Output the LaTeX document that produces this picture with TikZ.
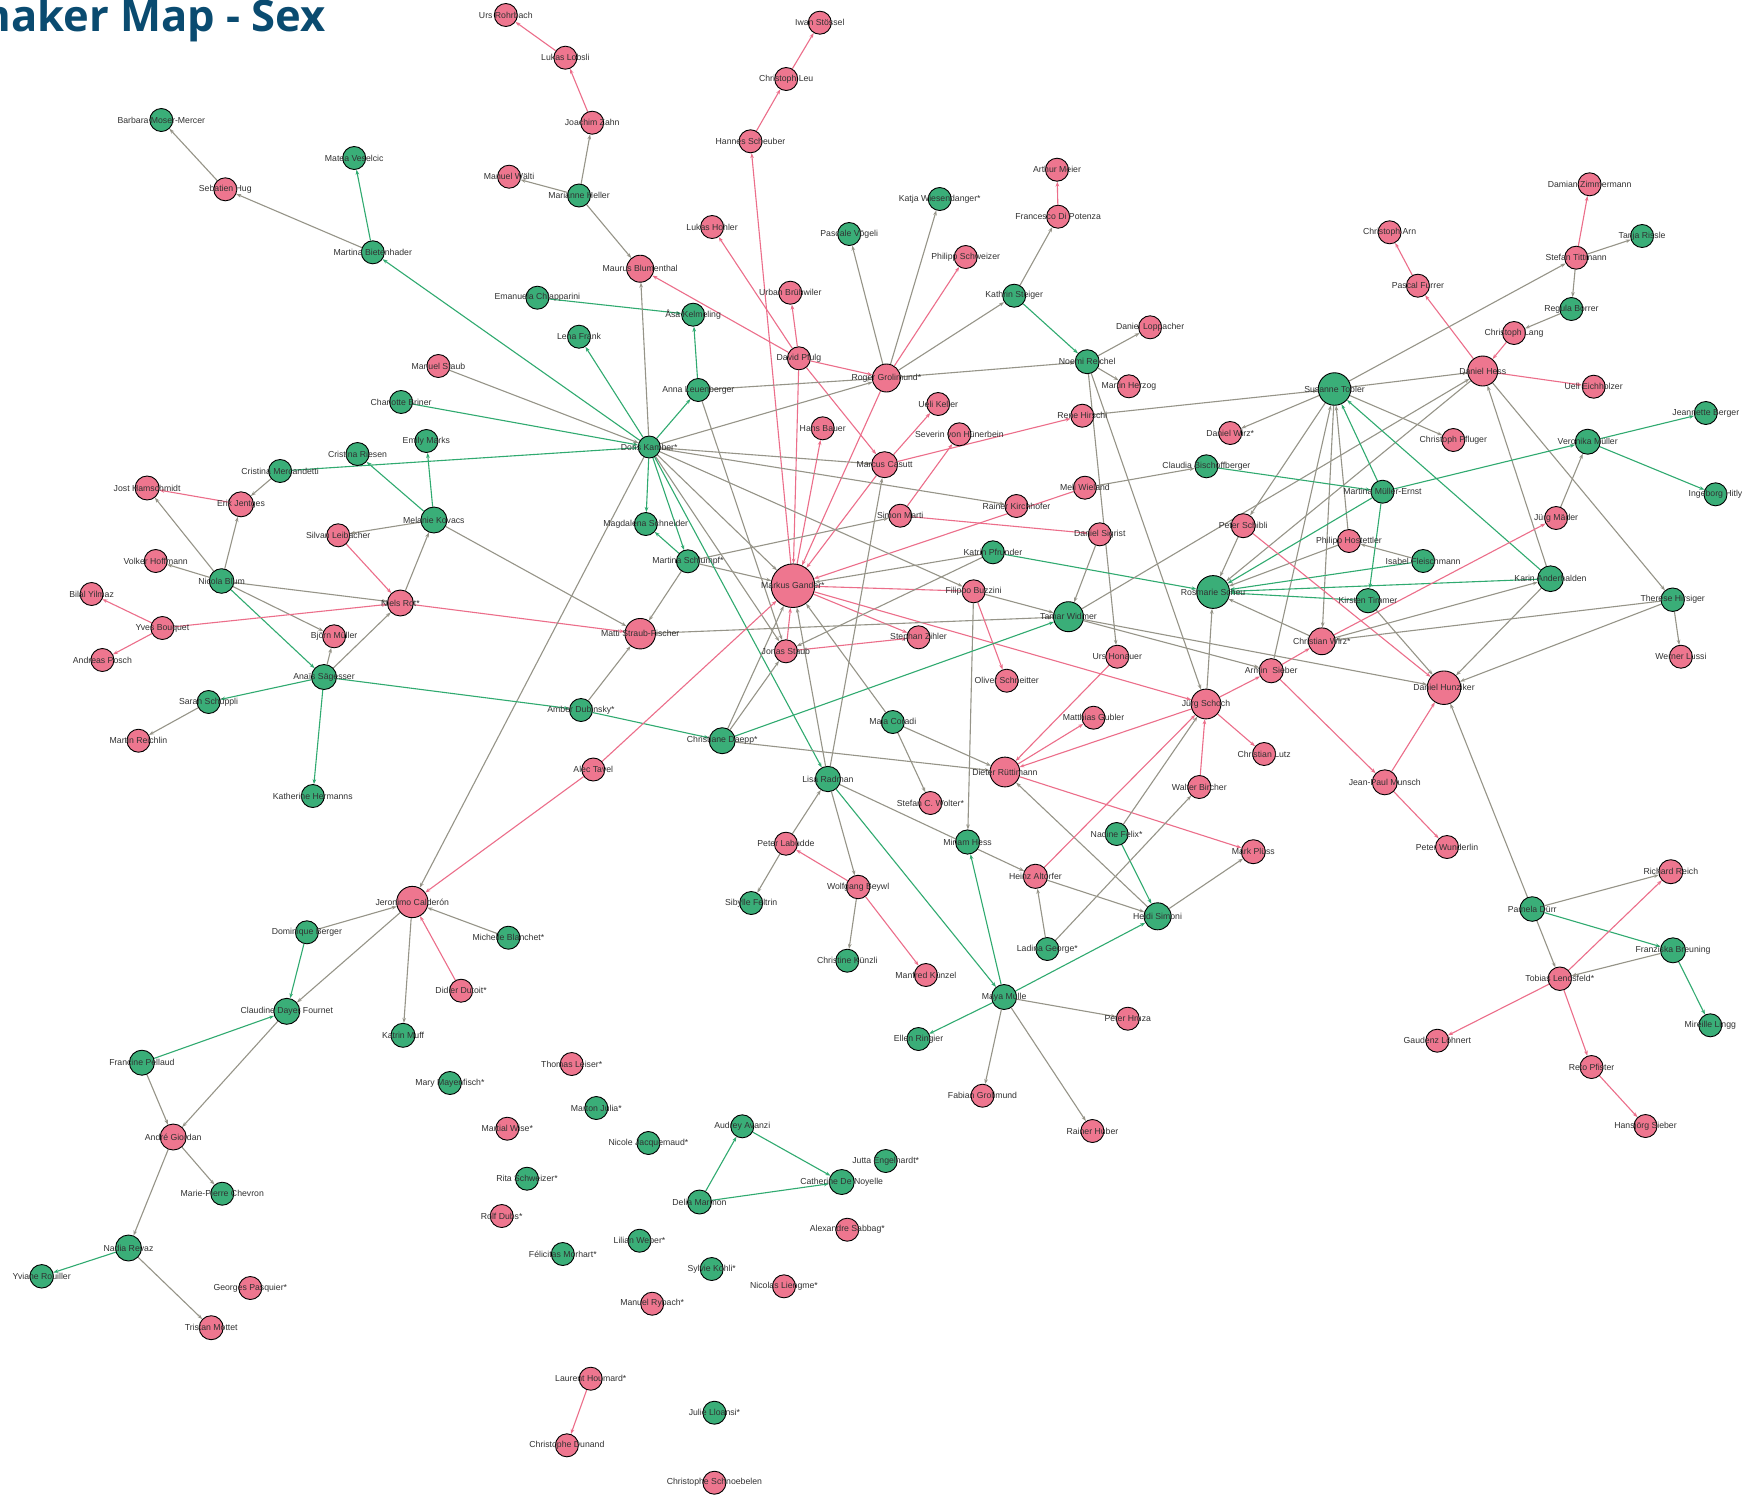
\documentclass[tikz,border=0pt]{standalone}
\usepackage{fontspec}
\setmainfont{Liberation Sans}
\newfontfamily\titlefont{Open Sans}
\usetikzlibrary{arrows.meta}
\definecolor{pkfill}{RGB}{238,118,143}
\definecolor{grfill}{RGB}{58,174,120}
\definecolor{pkedge}{RGB}{236,110,138}
\definecolor{gredge}{RGB}{48,170,112}
\definecolor{gyedge}{RGB}{150,148,136}
\definecolor{labcol}{RGB}{50,50,50}
\definecolor{titleblue}{RGB}{10,75,112}
\pgfdeclarelayer{bg}
\pgfdeclarelayer{fg}
\pgfsetlayers{bg,main,fg}
\tikzset{
  vtx/.style={circle,draw=black,line width=0.9pt,inner sep=0pt},
  pk/.style={fill=pkfill},
  gr/.style={fill=grfill},
  lab/.style={font=\fontsize{8.7}{9}\selectfont,text=labcol,inner sep=0pt},
  tipsty/.style={-{Stealth[length=5pt,width=3.6pt]}},
  ea/.style={draw=gyedge,line width=1.1pt,tipsty},
  ep/.style={draw=pkedge,line width=1.1pt,tipsty},
  eg/.style={draw=gredge,line width=1.1pt,tipsty}
}
\newcommand\vnode[6]{%
  \node[vtx,#2,minimum size=#5pt] (#1) at (#3,#4) {};
  \begin{pgfonlayer}{fg}\node[lab] at (#3,#4) {#6};\end{pgfonlayer}}
\newcommand\ga[2]{\draw[ea] (#1) -- (#2);}
\newcommand\pa[2]{\draw[ep] (#1) -- (#2);}
\newcommand\gna[2]{\draw[eg] (#1) -- (#2);}
\begin{document}
\begin{tikzpicture}[x=1pt,y=-1pt]
\useasboundingbox (0,0) rectangle (1752,1494);
\begin{pgfonlayer}{bg}
\fill[white] (0,0) rectangle (1752,1494);
\end{pgfonlayer}
\node[anchor=base east,font=\titlefont\bfseries\fontsize{43.5}{43.5}\selectfont,text=titleblue,inner sep=0pt] (title) at (326,31) {Changemaker Map - Sex};
\vnode{urs}{pk}{505.8}{15}{23}{Urs Rohrbach}
\vnode{lobsli}{pk}{565.4}{57.7}{23}{Lukas Lobsli}
\vnode{zahn}{pk}{592.2}{122.7}{23}{Joachim Zahn}
\vnode{waelti}{pk}{509.1}{176.7}{23}{Manuel Wälti}
\vnode{heller}{gr}{579}{195.5}{23}{Marianne Heller}
\vnode{barbara}{gr}{161.3}{120}{23}{Barbara Moser-Mercer}
\vnode{hug}{pk}{225.3}{189.3}{23}{Sebatien Hug}
\vnode{matea}{gr}{354.2}{158}{23}{Matea Veselcic}
\vnode{bieten}{gr}{372.8}{252.3}{23}{Martina Bietenhader}
\vnode{emanuela}{gr}{537.4}{297.7}{23}{Emanuela Chiapparini}
\vnode{lena}{gr}{579}{336.7}{23}{Lena Frank}
\vnode{mstaub}{pk}{438.4}{366}{23}{Manuel Staub}
\vnode{iwan}{pk}{819.8}{22.7}{23}{Iwan Stössel}
\vnode{leu}{pk}{786.2}{79}{23}{Christoph Leu}
\vnode{hannes}{pk}{750.5}{141.3}{23}{Hannes Scheuber}
\vnode{hohler}{pk}{712.1}{227}{23}{Lukas Hohler}
\vnode{maurus}{pk}{640.2}{268.7}{27}{Maurus Blumenthal}
\vnode{urban}{pk}{790.3}{292.7}{23}{Urban Brühwiler}
\vnode{asa}{gr}{693.1}{314.7}{23}{Åsa Kelmeling}
\vnode{pfulg}{pk}{798.9}{358.3}{23}{David Pfulg}
\vnode{pascale}{gr}{849.2}{234}{23}{Pascale Vögeli}
\vnode{katja}{gr}{939.7}{199}{23}{Katja Wiesendanger*}
\vnode{pschweizer}{pk}{965.7}{257}{23}{Philipp Schweizer}
\vnode{arthur}{pk}{1057}{169.7}{23}{Arthur Meier}
\vnode{francesco}{pk}{1058.1}{216.7}{23}{Francesco Di Potenza}
\vnode{steiger}{gr}{1014.2}{295.7}{23}{Kathrin Steiger}
\vnode{loppacher}{pk}{1150.1}{327.3}{23}{Daniel Loppacher}
\vnode{noemi}{gr}{1087.2}{361.7}{24}{Noemi Reichel}
\vnode{roger}{pk}{886.4}{378}{28}{Roger Grolimund*}
\vnode{damian}{pk}{1589.6}{184.3}{23}{Damian Zimmermann}
\vnode{arn}{pk}{1389.6}{232.3}{23}{Christoph Arn}
\vnode{tanja}{gr}{1642.1}{236}{23}{Tanja Rissle}
\vnode{tittmann}{pk}{1576.2}{257.7}{23}{Stefan Tittmann}
\vnode{furrer}{pk}{1417.9}{285.7}{23}{Pascal Furrer}
\vnode{regula}{gr}{1571.4}{309}{23}{Regula Borrer}
\vnode{lang}{pk}{1514}{333}{23}{Christoph Lang}
\vnode{dhess}{pk}{1482.7}{371}{30}{Daniel Hess}
\vnode{tobler}{gr}{1334.5}{389}{32.5}{Susanne Tobler}
\vnode{charlotte}{gr}{401.1}{402}{23}{Charlotte Briner}
\vnode{emily}{gr}{426.4}{441}{23}{Emily Marks}
\vnode{criesen}{gr}{357.5}{454}{23}{Cristina Riesen}
\vnode{cmerc}{gr}{280.1}{471}{23}{Cristina Mercandetti}
\vnode{jost}{pk}{147.1}{488}{24}{Jost Hamschmidt}
\vnode{erik}{pk}{241}{504.3}{25}{Erik Jentges}
\vnode{melanie}{gr}{433.9}{520}{26}{Melanie Kovacs}
\vnode{silvan}{pk}{338.2}{535.3}{23}{Silvan Leibacher}
\vnode{volker}{pk}{155.7}{561}{23}{Volker Hoffmann}
\vnode{nicola}{gr}{221.6}{581}{24.6}{Nicola Blum}
\vnode{bilal}{pk}{91.6}{594}{23}{Bilal Yilmaz}
\vnode{niels}{pk}{400.4}{603}{26}{Niels Rot*}
\vnode{yves}{pk}{162.4}{628}{23}{Yves Bouquet}
\vnode{bjorn}{pk}{334.1}{636.3}{23}{Björn Müller}
\vnode{andreas}{pk}{102.4}{660}{23}{Andreas Posch}
\vnode{anais}{gr}{324}{677}{25}{Anaïs Sägesser}
\vnode{sarah}{gr}{208.6}{702}{23}{Sarah Schüppli}
\vnode{amber}{gr}{581}{710}{23}{Amber Dubinsky*}
\vnode{reichlin}{pk}{138.5}{740.7}{23}{Martin Reichlin}
\vnode{anna}{gr}{698.3}{390}{23}{Anna Leuenberger}
\vnode{herzog}{pk}{1128.9}{386.3}{23}{Martin Herzog}
\vnode{ueli}{pk}{938.2}{404}{23}{Ueli Keller}
\vnode{hansb}{pk}{822.7}{428.3}{23}{Hans Bauer}
\vnode{severin}{pk}{959.4}{434.3}{23}{Severin von Hünerbein}
\vnode{rene}{pk}{1082.3}{415.7}{23}{Rene Hirschi}
\vnode{doris}{gr}{649.2}{447}{22}{Doris Kamber*}
\vnode{casutt}{pk}{884.6}{464.7}{26}{Marcus Casutt}
\vnode{meli}{pk}{1084.9}{487.7}{23}{Meli Wieland}
\vnode{rainerk}{pk}{1016.4}{506}{23}{Rainer Kirchhofer}
\vnode{simon}{pk}{900.2}{515.7}{23}{Simon Marti}
\vnode{magdalena}{gr}{645.8}{524}{23}{Magdalena Schneider}
\vnode{sigrist}{pk}{1099.8}{534.3}{23}{Daniel Sigrist}
\vnode{pfrunder}{gr}{992.9}{552.3}{23}{Katrin Pfrunder}
\vnode{schlumpf}{gr}{687.9}{561.3}{23}{Martina Schlumpf*}
\vnode{gander}{pk}{792.9}{585.7}{43.6}{Markus Gander*}
\vnode{filippo}{pk}{973.6}{591.3}{23}{Filippo Buzzini}
\vnode{tamar}{gr}{1068.5}{616.7}{30}{Tamar Widmer}
\vnode{matti}{pk}{640.2}{633.7}{30.5}{Matti Straub-Fischer}
\vnode{zihler}{pk}{918.5}{637.3}{23}{Stephan Zihler}
\vnode{jonas}{pk}{785.9}{651.3}{23}{Jonas Staub}
\vnode{honauer}{pk}{1117.3}{656.7}{23}{Urs Honauer}
\vnode{oliver}{pk}{1006.7}{680.7}{23}{Oliver Schneitter}
\vnode{maja}{gr}{892.8}{722}{23}{Maja Coradi}
\vnode{gubler}{pk}{1093.5}{717.7}{23}{Matthias Gubler}
\vnode{daepp}{gr}{722.2}{740.7}{26}{Christiane Daepp*}
\vnode{eichholzer}{pk}{1593.7}{386.7}{23}{Ueli Eichholzer}
\vnode{dwirz}{pk}{1230.2}{433}{23}{Daniel Wirz*}
\vnode{pfluger}{pk}{1453.3}{440}{23}{Christoph Pfluger}
\vnode{jeannette}{gr}{1705.8}{413}{23}{Jeannette Berger}
\vnode{veronika}{gr}{1587.7}{441.7}{25}{Veronika Müller}
\vnode{claudia}{gr}{1206.4}{466.3}{23}{Claudia Bischoffberger}
\vnode{mernst}{gr}{1382.5}{491.7}{23}{Martina Müller-Ernst}
\vnode{ingeborg}{gr}{1715.5}{494.3}{23}{Ingeborg Hitly}
\vnode{maeder}{pk}{1556.1}{518}{23}{Jürg Mäder}
\vnode{schibli}{pk}{1243.2}{525.7}{24}{Peter Schibli}
\vnode{hostettler}{pk}{1349}{541}{23}{Philipp Hostettler}
\vnode{isabel}{gr}{1423.1}{561}{23}{Isabel Fleischmann}
\vnode{karin}{gr}{1550.5}{578.7}{25.7}{Karin Anderhalden}
\vnode{rosmarie}{gr}{1213.1}{592}{32.8}{Rosmarie Scheu}
\vnode{kirsten}{gr}{1368}{600.7}{24.2}{Kirsten Timmer}
\vnode{therese}{gr}{1672.7}{599.7}{23.5}{Therese Hirsiger}
\vnode{cwirz}{pk}{1321.8}{641.3}{26.8}{Christian Wirz*}
\vnode{lussi}{pk}{1680.9}{656.7}{23}{Werner Lussi}
\vnode{armin}{pk}{1271.2}{670.7}{24.2}{Armin\ \ Sieber}
\vnode{hunziker}{pk}{1444}{687.7}{33.5}{Daniel Hunziker}
\vnode{schoch}{pk}{1206}{704}{29.8}{Jürg Schoch}
\vnode{lutz}{pk}{1264.1}{754}{23}{Christian Lutz}
\vnode{bircher}{pk}{1199.3}{787}{23}{Walter Bircher}
\vnode{munsch}{pk}{1384.8}{782.3}{25}{Jean-Paul Munsch}
\vnode{pluess}{pk}{1253.3}{851.7}{24}{Mark Plüss}
\vnode{wunderlin}{pk}{1447}{847}{23}{Peter Wunderlin}
\vnode{reich}{pk}{1670.8}{871.7}{24}{Richard Reich}
\vnode{pamela}{gr}{1532.2}{909}{24.6}{Pamela Dürr}
\vnode{franziska}{gr}{1673}{950.3}{25}{Franziska Breuning}
\vnode{tobias}{pk}{1559.8}{978.7}{23.5}{Tobias Lendsfeld*}
\vnode{mireille}{gr}{1710.3}{1025.3}{23}{Mireille Lingg}
\vnode{gaudenz}{pk}{1437.3}{1040.7}{23}{Gaudenz Löhnert}
\vnode{reto}{pk}{1591.5}{1067}{23}{Reto Pfister}
\vnode{hansjoerg}{pk}{1645.5}{1126}{23}{Hansjörg Sieber}
\vnode{katherine}{gr}{312.8}{796}{23}{Katherine Hermanns}
\vnode{alec}{pk}{593.3}{769.5}{23}{Alec Tavel}
\vnode{jeronimo}{pk}{412.3}{902}{31.3}{Jeronimo Calderón}
\vnode{dominique}{gr}{306.9}{932.3}{23}{Dominique Berger}
\vnode{michelle}{gr}{508.4}{937.7}{23}{Michelle Blanchet*}
\vnode{didier}{pk}{461.1}{990.7}{23}{Didier Dutoit*}
\vnode{claudine}{gr}{286.8}{1011.3}{26}{Claudine Dayer Fournet}
\vnode{muff}{gr}{403}{1035.3}{24}{Katrin Muff}
\vnode{francine}{gr}{141.9}{1062.7}{25}{Francine Pellaud}
\vnode{mary}{gr}{449.9}{1083}{23}{Mary Mayenfisch*}
\vnode{thomas}{pk}{571.7}{1064}{23}{Thomas Leiser*}
\vnode{andre}{pk}{173.2}{1137}{26}{André Giordan}
\vnode{mpc}{gr}{222.3}{1193.7}{23}{Marie-Pierre Chevron}
\vnode{nadia}{gr}{128.5}{1248}{26}{Nadia Revaz}
\vnode{yviane}{gr}{41.7}{1276.3}{23.5}{Yviane Rouiller}
\vnode{georges}{pk}{250.3}{1288}{23}{Georges Pasquier*}
\vnode{tristan}{pk}{211.2}{1327.7}{24}{Tristan Mottet}
\vnode{martial}{pk}{507.3}{1128.7}{23}{Martial Wise*}
\vnode{rita}{gr}{527}{1178.7}{23}{Rita Schweizer*}
\vnode{rolf}{pk}{501.7}{1216}{23}{Rolf Dubs*}
\vnode{felicitas}{gr}{562.8}{1254}{23}{Félicitas Morhart*}
\vnode{laurent}{pk}{590.7}{1378.7}{23}{Laurent Houmard*}
\vnode{cdunand}{pk}{566.9}{1445.3}{23}{Christophe Dunand}
\vnode{lisa}{gr}{827.9}{779}{25.3}{Lisa Radman}
\vnode{dieter}{pk}{1004.9}{772}{29.8}{Dieter Rüttimann}
\vnode{wolter}{pk}{930.4}{803}{23}{Stefan C. Wolter*}
\vnode{labudde}{pk}{785.9}{843.7}{23}{Peter Labudde}
\vnode{miriam}{gr}{967.6}{842}{24.2}{Miriam Hess}
\vnode{nadine}{gr}{1116.6}{834}{23}{Nadine Felix*}
\vnode{heinz}{pk}{1035.4}{876.3}{24.2}{Heinz Altorfer}
\vnode{beywl}{pk}{858.1}{887}{23.5}{Wolfgang Beywl}
\vnode{sibylle}{gr}{751.2}{903}{23}{Sibylle Feltrin}
\vnode{heidi}{gr}{1157.6}{916.3}{27}{Heidi Simoni}
\vnode{ladina}{gr}{1047.3}{949}{23}{Ladina George*}
\vnode{kuenzli}{gr}{847.3}{960.7}{23}{Christine Künzli}
\vnode{manfred}{pk}{925.9}{975}{23}{Manfred Künzel}
\vnode{maya}{gr}{1004.1}{997}{25}{Maya Mulle}
\vnode{hruza}{pk}{1127.8}{1018.7}{23}{Peter Hruza}
\vnode{ellen}{gr}{918.5}{1039}{23}{Ellen Ringier}
\vnode{fabian}{pk}{982.5}{1095.7}{23}{Fabian Grolimund}
\vnode{huber}{pk}{1092.4}{1131}{23}{Rainer Huber}
\vnode{marton}{gr}{596.3}{1108}{23}{Marton Julia*}
\vnode{audrey}{gr}{742.3}{1126.3}{23}{Audrey Avanzi}
\vnode{nicole}{gr}{648.4}{1143}{23}{Nicole Jacquemaud*}
\vnode{jutta}{gr}{885.7}{1161}{23}{Jutta Engelhardt*}
\vnode{catherine}{gr}{841.7}{1182}{25}{Catherine De Noyelle}
\vnode{delia}{gr}{699.5}{1202}{24}{Delia Marmon}
\vnode{sabbag}{pk}{847.3}{1229.7}{23}{Alexandre Sabbag*}
\vnode{lilian}{gr}{639.5}{1240.7}{23}{Lilian Weber*}
\vnode{sylvie}{gr}{711.7}{1269}{23}{Sylvie Kohli*}
\vnode{liengme}{pk}{784}{1286.3}{23}{Nicolas Liengme*}
\vnode{rybach}{pk}{652.2}{1303.7}{23}{Manuel Rybach*}
\vnode{julie}{gr}{714.4}{1412.7}{23}{Julie Lloansi*}
\vnode{schnoebelen}{pk}{714.4}{1482.7}{23}{Christophe Schnoebelen}
\begin{pgfonlayer}{bg}
\pa{lobsli}{urs}\pa{zahn}{lobsli}\ga{heller}{zahn}\ga{heller}{waelti}\ga{heller}{maurus}
\ga{hug}{barbara}\ga{bieten}{hug}\gna{bieten}{matea}\gna{doris}{bieten}
\gna{emanuela}{asa}\gna{anna}{asa}\ga{doris}{maurus}
\pa{pfulg}{maurus}\pa{pfulg}{hohler}\pa{pfulg}{urban}\pa{pfulg}{roger}\pa{pfulg}{casutt}\pa{pfulg}{gander}
\pa{gander}{hannes}\pa{hannes}{leu}\pa{leu}{iwan}\pa{gander}{hansb}
\pa{roger}{gander}\pa{casutt}{gander}\pa{meli}{gander}\pa{casutt}{ueli}\pa{casutt}{rene}
\pa{simon}{severin}\pa{simon}{sigrist}\ga{schlumpf}{simon}
\ga{doris}{casutt}\ga{doris}{rainerk}\ga{doris}{roger}\ga{anna}{roger}
\ga{roger}{noemi}\ga{roger}{steiger}\ga{roger}{pascale}\ga{roger}{katja}\pa{roger}{pschweizer}
\ga{steiger}{francesco}\pa{francesco}{arthur}\gna{steiger}{noemi}
\ga{noemi}{loppacher}\ga{noemi}{herzog}\ga{noemi}{honauer}\ga{noemi}{schoch}
\pa{honauer}{dieter}\pa{filippo}{gander}\pa{gander}{zihler}\pa{jonas}{zihler}\pa{jonas}{gander}
\ga{doris}{jonas}\ga{doris}{gander}\ga{doris}{filippo}\ga{filippo}{tamar}
\ga{pfrunder}{gander}\ga{pfrunder}{jonas}\gna{pfrunder}{rosmarie}\ga{schlumpf}{gander}
\pa{gander}{schoch}\ga{matti}{tamar}\ga{melanie}{matti}\pa{niels}{matti}\ga{schlumpf}{matti}
\gna{schlumpf}{magdalena}\gna{doris}{magdalena}\gna{doris}{schlumpf}\gna{doris}{lisa}\gna{doris}{anna}
\ga{anna}{jonas}\ga{amber}{matti}\ga{daepp}{gander}\ga{daepp}{jonas}\ga{lisa}{gander}\ga{lisa}{casutt}
\ga{maja}{gander}\ga{maja}{wolter}\ga{maja}{dieter}\pa{filippo}{oliver}\ga{filippo}{miriam}
\ga{sigrist}{tamar}\gna{daepp}{tamar}\gna{amber}{daepp}\ga{daepp}{dieter}
\ga{tamar}{dhess}\ga{tamar}{hunziker}\ga{tamar}{armin}
\ga{doris}{jeronimo}\gna{charlotte}{doris}\ga{mstaub}{doris}\gna{cmerc}{doris}\gna{doris}{lena}
\ga{cmerc}{erik}\pa{erik}{jost}\ga{nicola}{erik}\ga{nicola}{jost}\ga{nicola}{volker}
\ga{nicola}{niels}\ga{nicola}{bjorn}\gna{nicola}{anais}
\pa{yves}{bilal}\pa{yves}{andreas}\pa{yves}{niels}\pa{silvan}{niels}
\ga{melanie}{silvan}\ga{niels}{melanie}\gna{melanie}{emily}\gna{melanie}{criesen}
\ga{anais}{bjorn}\ga{anais}{niels}\gna{anais}{sarah}\ga{sarah}{reichlin}\gna{anais}{amber}\gna{anais}{katherine}
\pa{alec}{gander}\pa{alec}{jeronimo}\ga{dominique}{jeronimo}\ga{michelle}{jeronimo}\pa{didier}{jeronimo}
\ga{jeronimo}{muff}\ga{jeronimo}{claudine}\gna{dominique}{claudine}\gna{francine}{claudine}
\ga{claudine}{andre}\ga{francine}{andre}\ga{andre}{mpc}\ga{andre}{nadia}\gna{nadia}{yviane}\ga{nadia}{tristan}
\pa{laurent}{cdunand}\gna{delia}{audrey}\gna{audrey}{catherine}\gna{delia}{catherine}
\ga{labudde}{lisa}\ga{labudde}{sibylle}\pa{beywl}{labudde}\ga{lisa}{beywl}\ga{beywl}{kuenzli}\pa{beywl}{manfred}
\gna{lisa}{maya}\gna{maya}{miriam}\gna{maya}{heidi}\gna{maya}{ellen}\ga{maya}{hruza}\ga{maya}{fabian}\ga{maya}{huber}
\ga{lisa}{heinz}\pa{dieter}{pluess}\ga{heidi}{pluess}\ga{heidi}{dieter}\gna{nadine}{heidi}\ga{nadine}{schoch}
\pa{heinz}{schoch}\ga{heinz}{heidi}\ga{ladina}{heinz}\ga{ladina}{bircher}\pa{bircher}{schoch}
\pa{dieter}{gubler}\pa{schoch}{dieter}\pa{schoch}{lutz}\pa{schoch}{armin}\ga{schoch}{rosmarie}
\pa{armin}{cwirz}\pa{armin}{munsch}\pa{munsch}{wunderlin}\pa{munsch}{hunziker}
\ga{pamela}{hunziker}\ga{pamela}{reich}\gna{pamela}{franziska}\ga{pamela}{tobias}\pa{tobias}{reich}
\ga{franziska}{tobias}\gna{franziska}{mireille}\pa{tobias}{gaudenz}\pa{tobias}{reto}\pa{reto}{hansjoerg}
\pa{dhess}{eichholzer}\pa{dhess}{furrer}\pa{furrer}{arn}\pa{lang}{dhess}\ga{regula}{lang}
\ga{tittmann}{regula}\ga{tittmann}{tanja}\pa{tittmann}{damian}\ga{tobler}{tittmann}\ga{tobler}{dhess}
\ga{rene}{tobler}\ga{tobler}{dwirz}\ga{tobler}{pfluger}\ga{karin}{dhess}\ga{dhess}{therese}\ga{dhess}{rosmarie}
\ga{tobler}{schibli}\ga{tobler}{cwirz}\ga{armin}{tobler}\ga{hostettler}{tobler}
\gna{mernst}{tobler}\gna{karin}{tobler}\ga{meli}{claudia}\gna{claudia}{mernst}
\gna{mernst}{veronika}\gna{veronika}{jeannette}\gna{veronika}{ingeborg}\ga{maeder}{veronika}
\gna{mernst}{rosmarie}\gna{mernst}{kirsten}\ga{isabel}{hostettler}\gna{isabel}{rosmarie}
\ga{hostettler}{rosmarie}\gna{karin}{rosmarie}\gna{kirsten}{rosmarie}\ga{cwirz}{rosmarie}
\ga{schibli}{rosmarie}\pa{schibli}{hunziker}\pa{cwirz}{maeder}\ga{cwirz}{karin}\ga{therese}{cwirz}
\ga{kirsten}{hunziker}\ga{karin}{hunziker}\ga{therese}{hunziker}\ga{therese}{lussi}
\end{pgfonlayer}
\end{tikzpicture}
\end{document}
